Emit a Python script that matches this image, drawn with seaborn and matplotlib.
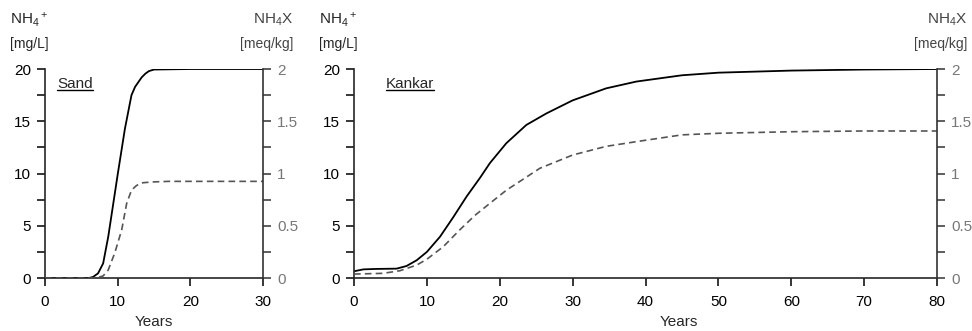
import numpy as np
import pandas as pd
import matplotlib.pyplot as plt
import seaborn as sns
from matplotlib.ticker import MultipleLocator, FormatStrFormatter
from matplotlib.lines import Line2D

# 数据
sand_t = [0, 6, 6.6, 7.3, 8, 8.7, 9.4, 10, 11, 11.9, 12.4, 12.85, 13.3, 13.8, 14.3, 15, 20, 30]
sand_nh4 = [0, 0, 0.1, 0.45, 1.4, 3.95, 7.15, 9.9, 14.3, 17.5, 18.3, 18.75, 19.2, 19.55, 19.8,
            19.95, 20, 20]
sand_tx = [0, 7, 8, 8.7, 9.6, 10.55, 11.24, 11.9, 12.5, 13.07, 13.5, 14, 15, 17, 30]
sand_nh4x = [0, 0, 0.02, 0.077, 0.24, 0.46, 0.715, 0.84, 0.88, 0.906, 0.912, 0.915, 0.92,
             0.925, 0.925]

kankar_t = [0, 1.3, 3, 5.85, 7.2, 8.6, 10, 11.8, 13.6, 15.45, 17.3, 18.65, 20.9, 23.65,
            26.4, 30, 34.6, 38.75, 45, 50, 60, 70, 80]
kankar_nh4 = [0.65, 0.83, 0.87, 0.9, 1.15, 1.7, 2.5, 3.95, 5.8, 7.8, 9.6, 11.0, 12.9, 14.65,
              15.75, 17.0, 18.15, 18.8, 19.4, 19.65, 19.85, 19.95, 20.0]
kankar_tx = [0, 4, 6.3, 8.6, 10, 12.25, 14.5, 16.6, 18.65, 20.9, 25.5, 30, 34.6, 39.2,
             45, 50, 60, 70, 80]
kankar_nh4x = [0.038, 0.045, 0.07, 0.124, 0.18, 0.30, 0.46, 0.60, 0.715, 0.84, 1.05, 1.177,
               1.26, 1.31, 1.37, 1.385, 1.40, 1.407, 1.407]

panels = [
    ('Sand', sand_t, sand_nh4, sand_tx, sand_nh4x, 30, 0.5),
    ('Kankar', kankar_t, kankar_nh4, kankar_tx, kankar_nh4x, 80, 0.557),
]

sns.set_style('ticks')
plt.rcParams['font.family'] = ['Liberation Sans', 'DejaVu Sans']
plt.rcParams['mathtext.fontset'] = 'custom'
plt.rcParams['mathtext.rm'] = 'Liberation Sans'
plt.rcParams['mathtext.it'] = 'Liberation Sans:italic'

fig = plt.figure(figsize=(9.72, 3.31), dpi=100)
boxes = [[0.0463, 0.160, 0.2243, 0.6315], [0.3642, 0.160, 0.5998, 0.6315]]

titles = []
for (name, t, nh4, tx, nh4x, xmax, xlab), box in zip(panels, boxes):
    ax = fig.add_axes(box)
    ax2 = ax.twinx()
    df = pd.DataFrame({'t': t, 'v': nh4})
    dfx = pd.DataFrame({'t': tx, 'v': nh4x})
    sns.lineplot(data=df, x='t', y='v', ax=ax, color='black', lw=1.3, legend=False)
    sns.lineplot(data=dfx, x='t', y='v', ax=ax2, color='#555555', lw=1.2,
                 legend=False).lines[0].set_dashes((4, 2.5))

    ax.set_xlim(0, xmax)
    ax.set_ylim(0, 20)
    ax2.set_ylim(0, 2)
    ax.xaxis.set_major_locator(MultipleLocator(10))
    ax.yaxis.set_major_locator(MultipleLocator(5))
    ax.yaxis.set_minor_locator(MultipleLocator(2.5))
    ax2.yaxis.set_major_locator(MultipleLocator(0.5))
    ax2.yaxis.set_minor_locator(MultipleLocator(0.25))
    ax2.yaxis.set_major_formatter(FormatStrFormatter('%g'))

    for a in (ax, ax2):
        a.spines['top'].set_visible(False)
        for s in a.spines.values():
            s.set_linewidth(1.2)
    ax.spines['right'].set_visible(False)
    ax2.spines['left'].set_visible(False)
    ax2.spines['bottom'].set_visible(False)
    ax2.spines['right'].set_color('#333333')

    ax.tick_params(axis='both', which='both', direction='out', length=6, width=1.1,
                   labelsize=11, colors='black', pad=4)
    ax.tick_params(axis='x', pad=6)
    ax2.tick_params(axis='y', which='both', direction='out', length=6, width=1.1,
                    labelsize=11, colors='#333333', labelcolor='#777777', pad=4)

    ax.set_xlabel('Years', fontsize=11)
    ax.xaxis.set_label_coords(xlab, -0.175)
    ax.set_ylabel('')
    ax2.set_ylabel('')

    titles.append(ax.text(0.055, 0.96, name, transform=ax.transAxes, fontsize=11,
                          ha='left', va='top'))

    x0 = box[0]
    x1 = box[0] + box[2]
    fig.text(x0 - 0.036, 0.94, r'NH$_4{}^+$', fontsize=11, ha='left', va='center')
    fig.text(x0 - 0.036, 0.866, '[mg/L]', fontsize=10, ha='left', va='center')
    fig.text(x1 + 0.031, 0.94, r'NH$_4$X', fontsize=11, ha='right', va='center',
             color='#444444')
    fig.text(x1 + 0.031, 0.866, '[meq/kg]', fontsize=10, ha='right', va='center',
             color='#444444')

# 标题下划线
fig.canvas.draw()
renderer = fig.canvas.get_renderer()
inv = fig.transFigure.inverted()
for txt in titles:
    bb = txt.get_window_extent(renderer)
    (xa, ya), (xb, yb) = inv.transform([[bb.x0, bb.y0], [bb.x1, bb.y1]])
    fig.add_artist(Line2D([xa, xb], [ya + 0.004, ya + 0.004], transform=fig.transFigure,
                          color='black', lw=1.0))

plt.savefig('out.png', dpi=100)
